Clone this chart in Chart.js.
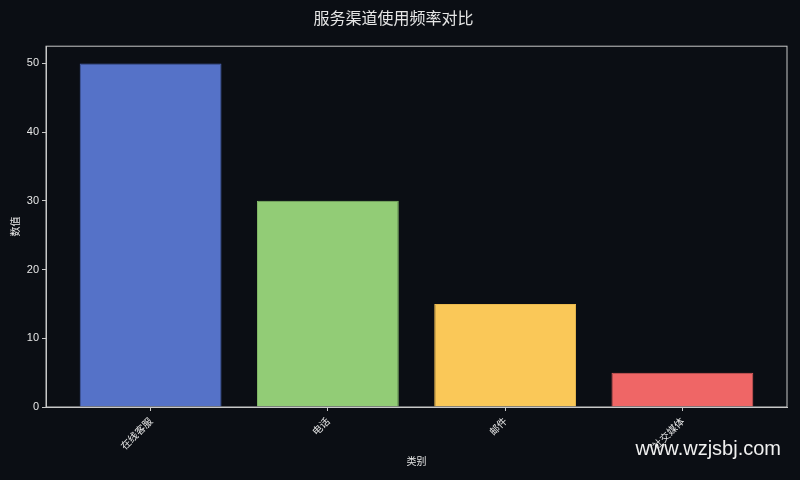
<!DOCTYPE html>
<html>
<head>
<meta charset="utf-8">
<script src="https://cdn.jsdelivr.net/npm/chart.js@4"></script>
<style>
  html, body { margin: 0; padding: 0; background: #0b0e14; }
  #wrap { width: 800px; height: 480px; }
</style>
</head>
<body>
<div id="wrap"><canvas id="barChart"></canvas></div>
<script>
var categories = ['在线客服', '电话', '邮件', '社交媒体'];
var values = [50, 30, 15, 5];
var yTicks = [0, 10, 20, 30, 40, 50];
var barColors = ['#5572c8', '#92cc76', '#fac858', '#ef6666'];
var edgeColors = ['#4a63b3', '#86bd6b', '#eab94f', '#d95b5b'];

var FONT = "'Noto Sans CJK SC', 'Liberation Sans', sans-serif";
var TEXT = '#e6e6e6';
var AXIS = '#c8c8c8';

// frame round the plot area + watermark
var framePlugin = {
    id: 'frame',
    afterDraw: function (chart) {
        var c = chart.ctx, a = chart.chartArea;
        c.save();
        c.strokeStyle = AXIS;
        c.lineWidth = 1;
        c.strokeRect(a.left, a.top, a.right - a.left, a.bottom - a.top);
        c.fillStyle = '#f0f0f0';
        c.font = "20px 'Liberation Sans', sans-serif";
        c.textAlign = 'right';
        c.textBaseline = 'middle';
        c.fillText('www.wzjsbj.com', 781, 449);
        c.restore();
    }
};

var bgPlugin = {
    id: 'bg',
    beforeDraw: function (chart) {
        var c = chart.ctx;
        c.save();
        c.fillStyle = '#0b0e14';
        c.fillRect(0, 0, chart.width, chart.height);
        c.restore();
    }
};

var ctx = document.getElementById('barChart').getContext('2d');
var myChart = new Chart(ctx, {
    type: 'bar',
    data: {
        datasets: [{
            label: '数值',
            data: values.map(function (v, i) { return { x: i, y: v }; }),
            backgroundColor: barColors,
            borderColor: edgeColors,
            borderWidth: 1,
            barPercentage: 0.8,
            categoryPercentage: 1.0
        }]
    },
    options: {
        responsive: true,
        maintainAspectRatio: false,
        animation: false,
        layout: { padding: { left: 0, right: 13, top: 0, bottom: 0 } },
        plugins: {
            legend: { display: false },
            tooltip: { enabled: false },
            title: {
                display: true,
                text: '服务渠道使用频率对比',
                color: TEXT,
                font: { family: FONT, size: 16, weight: 'normal' },
                padding: { top: 8, bottom: 19 }
            }
        },
        scales: {
            x: {
                type: 'linear',
                offset: false,
                min: -0.59,
                max: 3.59,
                afterBuildTicks: function (s) {
                    s.ticks = categories.map(function (c, i) { return { value: i }; });
                },
                afterFit: function (s) { s.height = 73; },
                grid: { display: true, offset: false, drawOnChartArea: false, drawTicks: true, tickLength: 4, color: AXIS },
                border: { display: true, color: AXIS, width: 1 },
                ticks: {
                    color: TEXT,
                    font: { family: FONT, size: 10 },
                    minRotation: 45,
                    maxRotation: 45,
                    padding: 4,
                    callback: function (v) { return categories[v]; }
                },
                title: {
                    display: true,
                    text: '类别',
                    color: TEXT,
                    font: { family: FONT, size: 10 },
                    padding: { top: 0, bottom: 13 }
                }
            },
            y: {
                min: 0,
                max: 52.5,
                afterBuildTicks: function (s) {
                    s.ticks = yTicks.map(function (v) { return { value: v }; });
                },
                afterFit: function (s) { s.width = 46; },
                grid: { display: true, drawOnChartArea: false, drawTicks: true, tickLength: 4, color: AXIS },
                border: { display: true, color: AXIS, width: 1 },
                ticks: {
                    color: TEXT,
                    font: { family: "'Liberation Sans', sans-serif", size: 11 },
                    padding: 3
                },
                title: {
                    display: true,
                    text: '数值',
                    color: TEXT,
                    font: { family: FONT, size: 10 },
                    padding: { top: 9, bottom: 0 }
                }
            }
        }
    },
    plugins: [bgPlugin, framePlugin]
});
</script>
</body>
</html>
